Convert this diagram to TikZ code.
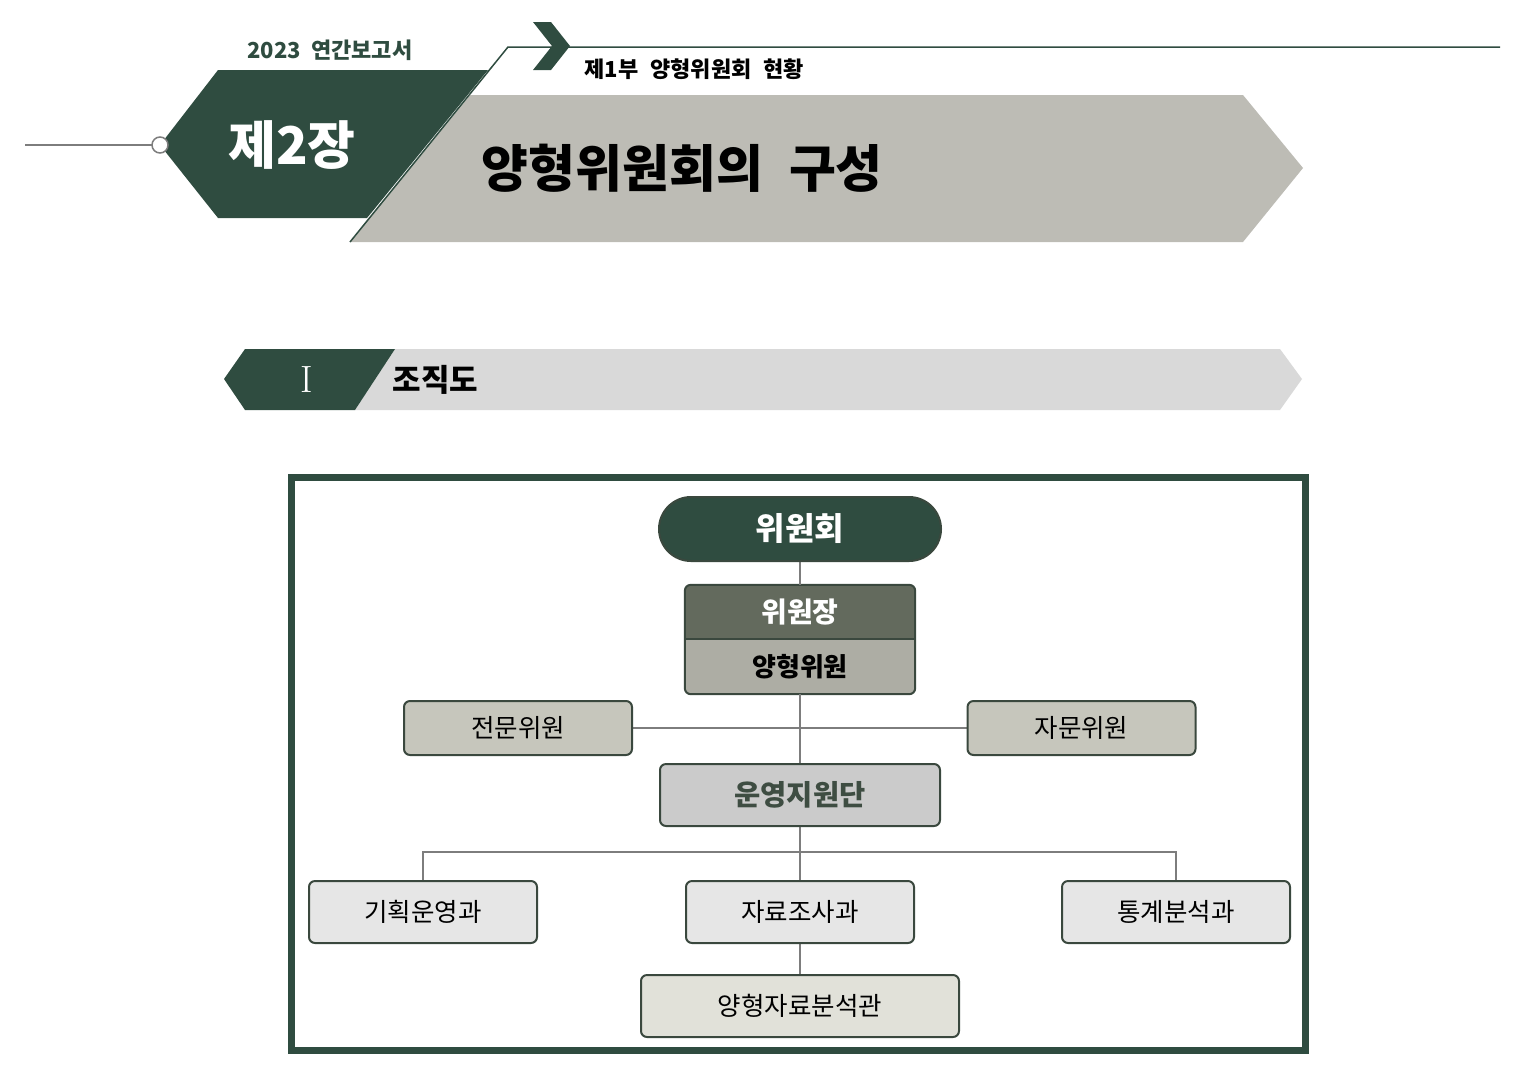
\documentclass[tikz,border=0pt]{standalone}
\usepackage{fontspec}
\newfontfamily\kr{Noto Sans CJK KR}
\usetikzlibrary{backgrounds}

\definecolor{dkgreen}{RGB}{47,76,64}
\definecolor{hdrgray}{RGB}{189,188,181}
\definecolor{secgray}{RGB}{217,217,217}
\definecolor{chaircol}{RGB}{99,106,93}
\definecolor{membcol}{RGB}{173,173,164}
\definecolor{advcol}{RGB}{198,198,188}
\definecolor{supcol}{RGB}{203,203,203}
\definecolor{deptcol}{RGB}{230,230,230}
\definecolor{anlcol}{RGB}{225,225,217}
\definecolor{boxline}{RGB}{58,72,62}
\definecolor{linkgray}{RGB}{125,125,125}
\definecolor{suptext}{RGB}{62,77,66}

\begin{document}
\begin{tikzpicture}[x=1pt,y=-1pt,
  box/.style={draw=boxline, line width=2pt, rounded corners=6pt,
    minimum width=228pt, minimum height=62pt, inner sep=0pt,
    font=\kr\fontsize{25.5}{30}\selectfont},
  link/.style={draw=linkgray, line width=1.6pt}]
\useasboundingbox (0,0) rectangle (1538,1088);

% header, left part.
\draw[linkgray, line width=1.5pt] (25,145) -- (152,145);
\fill[dkgreen] (218,70) -- (488,70) -- (367,218) -- (218,218) -- (160,145) -- cycle;
\draw[linkgray, fill=white, line width=1.5pt] (160,145) circle (8pt);

% header, gray arrow.
\fill[hdrgray] (470,95) -- (1243,95) -- (1303,168) -- (1243,242) -- (350,242) -- cycle;
\draw[dkgreen, line width=1.5pt] (350,242) -- (508,47) -- (1500,47);
\fill[dkgreen] (533,22) -- (551,22) -- (570,46) -- (551,70) -- (533,70) -- (552,46) -- cycle;

\node[text=dkgreen, font=\kr\bfseries\fontsize{22}{26}\selectfont] (year) at (330,50) {2023\ \ 연간보고서};
\node[text=white, font=\kr\bfseries\fontsize{52}{58}\selectfont] (chap) at (292,145) {제2장};
\node[anchor=west, font=\kr\bfseries\fontsize{22}{26}\selectfont] (part) at (581,69) {제1부\hspace{12pt}양형위원회\hspace{12pt}현황};
\node[anchor=west, font=\kr\bfseries\fontsize{51}{56}\selectfont] (title) at (478,168) {양형위원회의\hspace{26pt}구성};

% section bar.
\fill[secgray] (395,349) -- (1280,349) -- (1302,379) -- (1280,410) -- (355,410) -- cycle;
\fill[dkgreen] (245,349) -- (395,349) -- (355,410) -- (245,410) -- (224,379) -- cycle;
\node[text=white, font=\fontsize{38}{42}\selectfont] (secnum) at (307,380) {I};
\node[anchor=west, font=\kr\bfseries\fontsize{31}{34}\selectfont] (sectitle) at (389,380) {조직도};

% chart frame.
\draw[dkgreen, line width=7pt] (291.5,477.5) rectangle (1305.5,1050.5);

\node[box, fill=dkgreen, rounded corners=32pt, minimum width=282pt, minimum height=64pt,
  text=white, font=\kr\bfseries\fontsize{32}{36}\selectfont] (com) at (800,529) {위원회};

\node[minimum width=230pt, minimum height=54pt, inner sep=0pt, text=white,
  font=\kr\bfseries\fontsize{28}{32}\selectfont] (chair) at (800,612) {위원장};
\node[minimum width=230pt, minimum height=55pt, inner sep=0pt,
  font=\kr\bfseries\fontsize{26}{30}\selectfont] (memb) at (800,666.5) {양형위원};

\node[box, fill=advcol, minimum height=54pt] (adv1) at (518,728) {전문위원};
\node[box, fill=advcol, minimum height=54pt] (adv2) at (1081.5,728) {자문위원};

\node[box, fill=supcol, minimum width=280pt, text=suptext,
  font=\kr\bfseries\fontsize{28.5}{32}\selectfont] (sup) at (800,795) {운영지원단};

\node[box, fill=deptcol] (dept1) at (423,912) {기획운영과};
\node[box, fill=deptcol] (dept2) at (800,912) {자료조사과};
\node[box, fill=deptcol] (dept3) at (1176,912) {통계분석과};

\node[box, fill=anlcol, minimum width=318pt] (anl) at (800,1006) {양형자료분석관};

\coordinate (bus) at (800,852);

\begin{scope}[on background layer]
% chair over member, one box.
\fill[chaircol, rounded corners=6pt] (chair.north west) rectangle (memb.south east);
\fill[membcol, rounded corners=6pt] (memb.north west) -- (memb.south west) -- (memb.south east) -- (memb.north east);
\draw[boxline, line width=2pt, rounded corners=6pt] (chair.north west) rectangle (memb.south east);
\draw[boxline, line width=2pt] (chair.south west) -- (chair.south east);

\draw[link] (com.south) -- (chair.north);
\draw[link] (memb.south) -- (sup.north);
\draw[link] (adv1.east) -- (adv2.west);
\draw[link] (sup.south) -- (dept2.north);
\draw[link] (dept1.north) |- (bus) -| (dept3.north);
\draw[link] (dept2.south) -- (anl.north);
\end{scope}

\end{tikzpicture}
\end{document}
